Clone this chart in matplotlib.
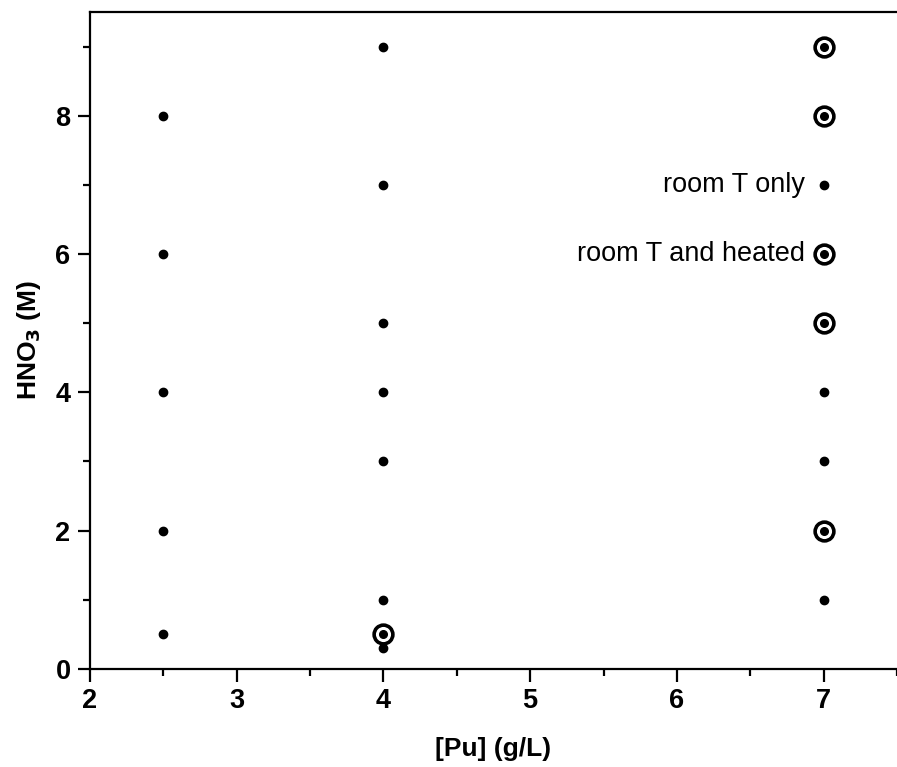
import matplotlib.pyplot as plt
from matplotlib.ticker import MultipleLocator

plt.rcParams["font.family"] = ["Liberation Sans", "DejaVu Sans"]

# samples kept at room temperature only
room_pu = [2.5, 2.5, 2.5, 2.5, 2.5, 4, 4, 4, 4, 4, 4, 4, 7, 7, 7, 7]
room_hno3 = [0.5, 2, 4, 6, 8, 0.3, 1, 3, 4, 5, 7, 9, 1, 3, 4, 7]

# samples run at room temperature and heated
heated_pu = [4, 7, 7, 7, 7, 7]
heated_hno3 = [0.5, 2, 5, 6, 8, 9]

fig = plt.figure(figsize=(8.97, 7.67), dpi=100)
ax = fig.add_axes([0.1003, 0.1278, 0.8997, 0.8566])

ax.plot(room_pu, room_hno3, "o", color="black", markersize=6, linestyle="none")
ax.plot(heated_pu, heated_hno3, "o", markersize=13.5, markerfacecolor="white",
        markeredgecolor="black", markeredgewidth=2.6, linestyle="none")
ax.plot(heated_pu, heated_hno3, "o", color="black", markersize=5.5, linestyle="none")

ax.text(6.87, 7, "room T only", ha="right", va="center", fontsize=19.5)
ax.text(6.87, 6, "room T and heated", ha="right", va="center", fontsize=19.5)

ax.set_xlim(2, 7.5)
ax.set_ylim(0, 9.5)
ax.xaxis.set_major_locator(MultipleLocator(1))
ax.xaxis.set_minor_locator(MultipleLocator(0.5))
ax.yaxis.set_major_locator(MultipleLocator(2))
ax.yaxis.set_minor_locator(MultipleLocator(1))

ax.spines["right"].set_visible(False)
for side in ("left", "bottom", "top"):
    ax.spines[side].set_linewidth(1.6)

ax.tick_params(which="major", direction="out", length=9, width=1.6,
               labelsize=19.5, pad=5)
ax.tick_params(which="minor", direction="out", length=5, width=1.6)
for lbl in ax.get_xticklabels() + ax.get_yticklabels():
    lbl.set_fontweight("bold")

ax.set_xlabel("[Pu] (g/L)", fontsize=19, fontweight="bold", labelpad=16)
ax.set_ylabel(r"HNO$_\mathbf{3}$ (M)", fontsize=19, fontweight="bold", labelpad=9)

fig.savefig("out.png", dpi=100)
